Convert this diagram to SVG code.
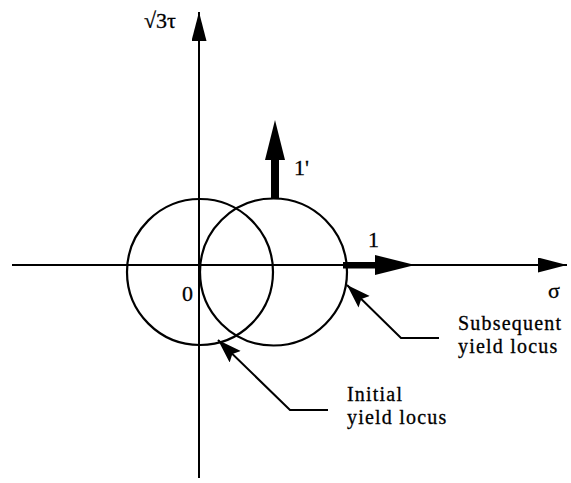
<svg xmlns="http://www.w3.org/2000/svg" width="571" height="483" viewBox="0 0 571 483">
<style>
.ax{stroke:#000;stroke-width:2;fill:none}
.c{stroke:#000;stroke-width:2.2;fill:none}
.t{font-family:"Liberation Serif","Times New Roman",serif;font-size:22px;fill:#000;stroke:#000;stroke-width:0.3}
.n{font-family:"Liberation Serif","Times New Roman",serif;font-size:20px;letter-spacing:1.2px;fill:#000;stroke:#000;stroke-width:0.3}
</style>
<defs>
<marker id="axh" markerUnits="userSpaceOnUse" markerWidth="30" markerHeight="16" refX="29" refY="7.5" orient="auto">
<path d="M0,0 L29,7.5 L0,15 Z" fill="#000"/>
</marker>
<marker id="ldh" markerUnits="userSpaceOnUse" markerWidth="26" markerHeight="18" refX="24" refY="8" orient="auto">
<path d="M0,0 L24,8 L0,16 L4,8 Z" fill="#000"/>
</marker>
</defs>
<rect width="571" height="483" fill="#fff"/>
<g id="connectors">
<line class="ax" x1="12" y1="265" x2="567" y2="265" marker-end="url(#axh)"/>
<line class="ax" x1="199" y1="478" x2="199" y2="12" marker-end="url(#axh)"/>
<polyline class="ax" points="328,410 290,410 218,340" marker-end="url(#ldh)"/>
<polyline class="ax" points="439,338 401,338 347,285" marker-end="url(#ldh)"/>
</g>
<g id="initial-locus"><circle class="c" cx="200" cy="272" r="73"/></g>
<g id="subsequent-locus"><circle class="c" cx="273.5" cy="272" r="73.5"/></g>
<g id="vector-1">
<rect x="343" y="262" width="33" height="6.5" fill="#000"/>
<path d="M375,255 L415,265 L375,275 Z" fill="#000"/>
</g>
<g id="vector-1p">
<rect x="271" y="158" width="8" height="41" fill="#000"/>
<path d="M265,160 L275,120 L285,160 Z" fill="#000"/>
</g>
<g id="labels">
<text class="t" x="144" y="28">√3τ</text>
<text class="t" x="548" y="298">σ</text>
<text class="t" x="182" y="301">0</text>
<text class="t" x="368" y="247">1</text>
<text class="t" x="294" y="175">1'</text>
<text class="n" x="458" y="330">Subsequent</text>
<text class="n" x="458" y="353">yield locus</text>
<text class="n" x="347" y="401">Initial</text>
<text class="n" x="347" y="424">yield locus</text>
</g>
</svg>
